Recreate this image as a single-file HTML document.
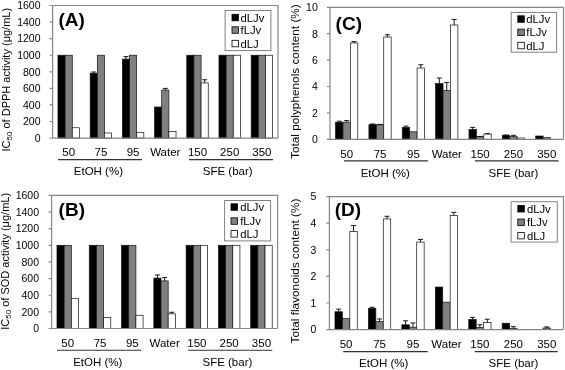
<!DOCTYPE html><html><head><meta charset="utf-8"><style>html,body{margin:0;padding:0;background:#fff;width:565px;height:370px;overflow:hidden}svg{display:block;will-change:transform}</style></head><body>
<svg width="565" height="370" viewBox="0 0 565 370" font-family='"Liberation Sans", sans-serif'>
<rect width="565" height="370" fill="#fff"/>
<rect x="57.97" y="55.23" width="7.16" height="82.87" fill="#000000" stroke="#111" stroke-width="0.7"/>
<rect x="65.12" y="55.23" width="7.16" height="82.87" fill="#808080" stroke="#111" stroke-width="0.7"/>
<rect x="72.28" y="127.74" width="7.16" height="10.36" fill="#ffffff" stroke="#111" stroke-width="0.7"/>
<rect x="90.17" y="73.21" width="7.16" height="64.89" fill="#000000" stroke="#111" stroke-width="0.7"/>
<path d="M93.74 73.21V71.97M91.24 71.97H96.24" stroke="#000" stroke-width="0.9" fill="none"/>
<rect x="97.32" y="55.23" width="7.16" height="82.87" fill="#808080" stroke="#111" stroke-width="0.7"/>
<rect x="104.48" y="132.96" width="7.16" height="5.14" fill="#ffffff" stroke="#111" stroke-width="0.7"/>
<rect x="122.37" y="59.12" width="7.16" height="78.98" fill="#000000" stroke="#111" stroke-width="0.7"/>
<path d="M125.94 59.12V56.63M123.44 56.63H128.44" stroke="#000" stroke-width="0.9" fill="none"/>
<rect x="129.52" y="55.23" width="7.16" height="82.87" fill="#808080" stroke="#111" stroke-width="0.7"/>
<rect x="136.68" y="132.30" width="7.16" height="5.80" fill="#ffffff" stroke="#111" stroke-width="0.7"/>
<rect x="154.57" y="107.02" width="7.16" height="31.08" fill="#000000" stroke="#111" stroke-width="0.7"/>
<rect x="161.72" y="90.03" width="7.16" height="48.07" fill="#808080" stroke="#111" stroke-width="0.7"/>
<path d="M165.30 90.03V88.38M162.80 88.38H167.80" stroke="#000" stroke-width="0.9" fill="none"/>
<rect x="168.88" y="131.55" width="7.16" height="6.55" fill="#ffffff" stroke="#111" stroke-width="0.7"/>
<rect x="186.77" y="55.23" width="7.16" height="82.87" fill="#000000" stroke="#111" stroke-width="0.7"/>
<rect x="193.92" y="55.23" width="7.16" height="82.87" fill="#808080" stroke="#111" stroke-width="0.7"/>
<rect x="201.08" y="82.91" width="7.16" height="55.19" fill="#ffffff" stroke="#111" stroke-width="0.7"/>
<path d="M204.66 82.91V79.76M202.16 79.76H207.16" stroke="#000" stroke-width="0.9" fill="none"/>
<rect x="218.97" y="55.23" width="7.16" height="82.87" fill="#000000" stroke="#111" stroke-width="0.7"/>
<rect x="226.12" y="55.23" width="7.16" height="82.87" fill="#808080" stroke="#111" stroke-width="0.7"/>
<rect x="233.28" y="55.23" width="7.16" height="82.87" fill="#ffffff" stroke="#111" stroke-width="0.7"/>
<rect x="251.17" y="55.23" width="7.16" height="82.87" fill="#000000" stroke="#111" stroke-width="0.7"/>
<rect x="258.32" y="55.23" width="7.16" height="82.87" fill="#808080" stroke="#111" stroke-width="0.7"/>
<rect x="265.48" y="55.23" width="7.16" height="82.87" fill="#ffffff" stroke="#111" stroke-width="0.7"/>
<path d="M52.6 5.5H278.0V138.1" stroke="#868686" stroke-width="1.2" fill="none"/>
<path d="M52.6 5.5V138.1H278.0" stroke="#868686" stroke-width="1.2" fill="none"/>
<text x="40.5" y="141.90" font-size="10.5" text-anchor="end" fill="#000">0</text>
<text x="40.5" y="125.32" font-size="10.5" text-anchor="end" fill="#000">200</text>
<text x="40.5" y="108.75" font-size="10.5" text-anchor="end" fill="#000">400</text>
<text x="40.5" y="92.17" font-size="10.5" text-anchor="end" fill="#000">600</text>
<text x="40.5" y="75.60" font-size="10.5" text-anchor="end" fill="#000">800</text>
<text x="40.5" y="59.03" font-size="10.5" text-anchor="end" fill="#000">1000</text>
<text x="40.5" y="42.45" font-size="10.5" text-anchor="end" fill="#000">1200</text>
<text x="40.5" y="25.88" font-size="10.5" text-anchor="end" fill="#000">1400</text>
<text x="40.5" y="9.30" font-size="10.5" text-anchor="end" fill="#000">1600</text>
<path d="M49.6 138.10H52.6M49.6 121.52H52.6M49.6 104.95H52.6M49.6 88.38H52.6M49.6 71.80H52.6M49.6 55.23H52.6M49.6 38.65H52.6M49.6 22.08H52.6M49.6 5.50H52.6" stroke="#868686" stroke-width="1.2" fill="none"/>
<text x="68.70" y="156.3" font-size="11.5" text-anchor="middle" fill="#000">50</text>
<text x="100.90" y="156.3" font-size="11.5" text-anchor="middle" fill="#000">75</text>
<text x="133.10" y="156.3" font-size="11.5" text-anchor="middle" fill="#000">95</text>
<text x="165.30" y="156.3" font-size="11.5" text-anchor="middle" fill="#000">Water</text>
<text x="197.50" y="156.3" font-size="11.5" text-anchor="middle" fill="#000">150</text>
<text x="229.70" y="156.3" font-size="11.5" text-anchor="middle" fill="#000">250</text>
<text x="261.90" y="156.3" font-size="11.5" text-anchor="middle" fill="#000">350</text>
<path d="M58 159.6H142M189 159.6H273" stroke="#333" stroke-width="1.1" fill="none"/>
<text x="98.4" y="174.9" font-size="11.5" text-anchor="middle" fill="#000">EtOH (%)</text>
<text x="227.7" y="174.9" font-size="11.5" text-anchor="middle" fill="#000">SFE (bar)</text>
<text x="58.5" y="25.8" font-size="19" font-weight="bold" fill="#000">(A)</text>
<rect x="225.1" y="10.5" width="45.80" height="40.10" fill="#fff" stroke="#808080" stroke-width="1"/>
<rect x="232" y="14.30" width="6.5" height="6.5" fill="#000000" stroke="#000" stroke-width="0.8"/>
<text x="240.5" y="21.50" font-size="11.3" fill="#000">dLJv</text>
<rect x="232" y="26.80" width="6.5" height="6.5" fill="#808080" stroke="#000" stroke-width="0.8"/>
<text x="240.5" y="34.00" font-size="11.3" fill="#000">fLJv</text>
<rect x="232" y="40.30" width="6.5" height="6.5" fill="#ffffff" stroke="#000" stroke-width="0.8"/>
<text x="240.5" y="47.50" font-size="11.3" fill="#000">dLJ</text>
<text transform="translate(9.7,151.5) rotate(-90)" font-size="11" fill="#000">IC<tspan font-size="8" dy="2.5">50</tspan><tspan dy="-2.5"> of DPPH activity (μg/mL)</tspan></text>
<rect x="56.98" y="245.31" width="7.17" height="83.19" fill="#000000" stroke="#111" stroke-width="0.7"/>
<rect x="64.16" y="245.31" width="7.17" height="83.19" fill="#808080" stroke="#111" stroke-width="0.7"/>
<rect x="71.33" y="298.47" width="7.17" height="30.03" fill="#ffffff" stroke="#111" stroke-width="0.7"/>
<rect x="89.27" y="245.31" width="7.17" height="83.19" fill="#000000" stroke="#111" stroke-width="0.7"/>
<rect x="96.44" y="245.31" width="7.17" height="83.19" fill="#808080" stroke="#111" stroke-width="0.7"/>
<rect x="103.62" y="317.35" width="7.17" height="11.15" fill="#ffffff" stroke="#111" stroke-width="0.7"/>
<rect x="121.55" y="245.31" width="7.17" height="83.19" fill="#000000" stroke="#111" stroke-width="0.7"/>
<rect x="128.73" y="245.31" width="7.17" height="83.19" fill="#808080" stroke="#111" stroke-width="0.7"/>
<rect x="135.90" y="315.27" width="7.17" height="13.23" fill="#ffffff" stroke="#111" stroke-width="0.7"/>
<rect x="153.84" y="278.09" width="7.17" height="50.41" fill="#000000" stroke="#111" stroke-width="0.7"/>
<path d="M157.43 278.09V274.93M154.93 274.93H159.93" stroke="#000" stroke-width="0.9" fill="none"/>
<rect x="161.01" y="280.92" width="7.17" height="47.58" fill="#808080" stroke="#111" stroke-width="0.7"/>
<path d="M164.60 280.92V277.59M162.10 277.59H167.10" stroke="#000" stroke-width="0.9" fill="none"/>
<rect x="168.19" y="313.86" width="7.17" height="14.64" fill="#ffffff" stroke="#111" stroke-width="0.7"/>
<path d="M171.77 313.86V312.28M169.27 312.28H174.27" stroke="#000" stroke-width="0.9" fill="none"/>
<rect x="186.12" y="245.31" width="7.17" height="83.19" fill="#000000" stroke="#111" stroke-width="0.7"/>
<rect x="193.30" y="245.31" width="7.17" height="83.19" fill="#808080" stroke="#111" stroke-width="0.7"/>
<rect x="200.47" y="245.31" width="7.17" height="83.19" fill="#ffffff" stroke="#111" stroke-width="0.7"/>
<rect x="218.41" y="245.31" width="7.17" height="83.19" fill="#000000" stroke="#111" stroke-width="0.7"/>
<rect x="225.58" y="245.31" width="7.17" height="83.19" fill="#808080" stroke="#111" stroke-width="0.7"/>
<rect x="232.76" y="245.31" width="7.17" height="83.19" fill="#ffffff" stroke="#111" stroke-width="0.7"/>
<rect x="250.70" y="245.31" width="7.17" height="83.19" fill="#000000" stroke="#111" stroke-width="0.7"/>
<rect x="257.87" y="245.31" width="7.17" height="83.19" fill="#808080" stroke="#111" stroke-width="0.7"/>
<rect x="265.04" y="245.31" width="7.17" height="83.19" fill="#ffffff" stroke="#111" stroke-width="0.7"/>
<path d="M51.6 195.4H277.6V328.5" stroke="#868686" stroke-width="1.2" fill="none"/>
<path d="M51.6 195.4V328.5H277.6" stroke="#868686" stroke-width="1.2" fill="none"/>
<text x="39.0" y="332.30" font-size="10.5" text-anchor="end" fill="#000">0</text>
<text x="39.0" y="315.66" font-size="10.5" text-anchor="end" fill="#000">200</text>
<text x="39.0" y="299.03" font-size="10.5" text-anchor="end" fill="#000">400</text>
<text x="39.0" y="282.39" font-size="10.5" text-anchor="end" fill="#000">600</text>
<text x="39.0" y="265.75" font-size="10.5" text-anchor="end" fill="#000">800</text>
<text x="39.0" y="249.11" font-size="10.5" text-anchor="end" fill="#000">1000</text>
<text x="39.0" y="232.48" font-size="10.5" text-anchor="end" fill="#000">1200</text>
<text x="39.0" y="215.84" font-size="10.5" text-anchor="end" fill="#000">1400</text>
<text x="39.0" y="199.20" font-size="10.5" text-anchor="end" fill="#000">1600</text>
<path d="M48.6 328.50H51.6M48.6 311.86H51.6M48.6 295.23H51.6M48.6 278.59H51.6M48.6 261.95H51.6M48.6 245.31H51.6M48.6 228.68H51.6M48.6 212.04H51.6M48.6 195.40H51.6" stroke="#868686" stroke-width="1.2" fill="none"/>
<text x="67.74" y="347.3" font-size="11.5" text-anchor="middle" fill="#000">50</text>
<text x="100.03" y="347.3" font-size="11.5" text-anchor="middle" fill="#000">75</text>
<text x="132.31" y="347.3" font-size="11.5" text-anchor="middle" fill="#000">95</text>
<text x="164.60" y="347.3" font-size="11.5" text-anchor="middle" fill="#000">Water</text>
<text x="196.89" y="347.3" font-size="11.5" text-anchor="middle" fill="#000">150</text>
<text x="229.17" y="347.3" font-size="11.5" text-anchor="middle" fill="#000">250</text>
<text x="261.46" y="347.3" font-size="11.5" text-anchor="middle" fill="#000">350</text>
<path d="M57 350.3H141.3M188 350.3H272.3" stroke="#333" stroke-width="1.1" fill="none"/>
<text x="97.8" y="365.5" font-size="11.5" text-anchor="middle" fill="#000">EtOH (%)</text>
<text x="227.4" y="365.5" font-size="11.5" text-anchor="middle" fill="#000">SFE (bar)</text>
<text x="58.6" y="216.0" font-size="19" font-weight="bold" fill="#000">(B)</text>
<rect x="224.6" y="200.5" width="46.00" height="40.40" fill="#fff" stroke="#808080" stroke-width="1"/>
<rect x="231" y="203.80" width="6.5" height="6.5" fill="#000000" stroke="#000" stroke-width="0.8"/>
<text x="240.2" y="211.00" font-size="11.3" fill="#000">dLJv</text>
<rect x="231" y="217.80" width="6.5" height="6.5" fill="#808080" stroke="#000" stroke-width="0.8"/>
<text x="240.2" y="225.00" font-size="11.3" fill="#000">fLJv</text>
<rect x="231" y="230.60" width="6.5" height="6.5" fill="#ffffff" stroke="#000" stroke-width="0.8"/>
<text x="240.2" y="237.80" font-size="11.3" fill="#000">dLJ</text>
<text transform="translate(8.9,329.8) rotate(-90)" font-size="11" fill="#000">IC<tspan font-size="8" dy="2.5">50</tspan><tspan dy="-2.5"> of SOD activity (μg/mL)</tspan></text>
<rect x="335.56" y="122.27" width="7.41" height="17.03" fill="#000000" stroke="#111" stroke-width="0.7"/>
<path d="M339.27 122.27V121.22M336.77 121.22H341.77" stroke="#000" stroke-width="0.9" fill="none"/>
<rect x="342.97" y="122.14" width="7.41" height="17.16" fill="#808080" stroke="#111" stroke-width="0.7"/>
<path d="M346.68 122.14V120.56M344.18 120.56H349.18" stroke="#000" stroke-width="0.9" fill="none"/>
<rect x="350.38" y="42.94" width="7.41" height="96.36" fill="#ffffff" stroke="#111" stroke-width="0.7"/>
<path d="M354.09 42.94V41.62M351.59 41.62H356.59" stroke="#000" stroke-width="0.9" fill="none"/>
<rect x="368.92" y="124.65" width="7.41" height="14.65" fill="#000000" stroke="#111" stroke-width="0.7"/>
<path d="M372.62 124.65V123.99M370.12 123.99H375.12" stroke="#000" stroke-width="0.9" fill="none"/>
<rect x="376.33" y="124.78" width="7.41" height="14.52" fill="#808080" stroke="#111" stroke-width="0.7"/>
<path d="M380.04 124.78V124.38M377.54 124.38H382.54" stroke="#000" stroke-width="0.9" fill="none"/>
<rect x="383.74" y="37.00" width="7.41" height="102.30" fill="#ffffff" stroke="#111" stroke-width="0.7"/>
<path d="M387.45 37.00V34.76M384.95 34.76H389.95" stroke="#000" stroke-width="0.9" fill="none"/>
<rect x="402.27" y="127.42" width="7.41" height="11.88" fill="#000000" stroke="#111" stroke-width="0.7"/>
<path d="M405.98 127.42V126.10M403.48 126.10H408.48" stroke="#000" stroke-width="0.9" fill="none"/>
<rect x="409.69" y="131.78" width="7.41" height="7.52" fill="#808080" stroke="#111" stroke-width="0.7"/>
<rect x="417.10" y="68.02" width="7.41" height="71.28" fill="#ffffff" stroke="#111" stroke-width="0.7"/>
<path d="M420.81 68.02V64.72M418.31 64.72H423.31" stroke="#000" stroke-width="0.9" fill="none"/>
<rect x="435.63" y="83.60" width="7.41" height="55.70" fill="#000000" stroke="#111" stroke-width="0.7"/>
<path d="M439.34 83.60V78.05M436.84 78.05H441.84" stroke="#000" stroke-width="0.9" fill="none"/>
<rect x="443.04" y="90.46" width="7.41" height="48.84" fill="#808080" stroke="#111" stroke-width="0.7"/>
<path d="M446.75 90.46V82.54M444.25 82.54H449.25" stroke="#000" stroke-width="0.9" fill="none"/>
<rect x="450.46" y="24.99" width="7.41" height="114.31" fill="#ffffff" stroke="#111" stroke-width="0.7"/>
<path d="M454.16 24.99V19.44M451.66 19.44H456.66" stroke="#000" stroke-width="0.9" fill="none"/>
<rect x="468.99" y="129.40" width="7.41" height="9.90" fill="#000000" stroke="#111" stroke-width="0.7"/>
<path d="M472.69 129.40V127.42M470.19 127.42H475.19" stroke="#000" stroke-width="0.9" fill="none"/>
<rect x="476.40" y="136.66" width="7.41" height="2.64" fill="#808080" stroke="#111" stroke-width="0.7"/>
<path d="M480.11 136.66V136.40M477.61 136.40H482.61" stroke="#000" stroke-width="0.9" fill="none"/>
<rect x="483.81" y="134.02" width="7.41" height="5.28" fill="#ffffff" stroke="#111" stroke-width="0.7"/>
<path d="M487.52 134.02V133.62M485.02 133.62H490.02" stroke="#000" stroke-width="0.9" fill="none"/>
<rect x="502.35" y="135.34" width="7.41" height="3.96" fill="#000000" stroke="#111" stroke-width="0.7"/>
<path d="M506.05 135.34V134.94M503.55 134.94H508.55" stroke="#000" stroke-width="0.9" fill="none"/>
<rect x="509.76" y="136.66" width="7.41" height="2.64" fill="#808080" stroke="#111" stroke-width="0.7"/>
<path d="M513.46 136.66V135.34M510.96 135.34H515.96" stroke="#000" stroke-width="0.9" fill="none"/>
<rect x="517.17" y="137.98" width="7.41" height="1.32" fill="#ffffff" stroke="#111" stroke-width="0.7"/>
<rect x="535.70" y="136.00" width="7.41" height="3.30" fill="#000000" stroke="#111" stroke-width="0.7"/>
<rect x="543.12" y="137.72" width="7.41" height="1.58" fill="#808080" stroke="#111" stroke-width="0.7"/>
<path d="M330.0 7.3H563.5V139.3" stroke="#868686" stroke-width="1.2" fill="none"/>
<path d="M330.0 7.3V139.3H563.5" stroke="#868686" stroke-width="1.2" fill="none"/>
<text x="317.8" y="143.10" font-size="10.5" text-anchor="end" fill="#000">0</text>
<text x="317.8" y="116.70" font-size="10.5" text-anchor="end" fill="#000">2</text>
<text x="317.8" y="90.30" font-size="10.5" text-anchor="end" fill="#000">4</text>
<text x="317.8" y="63.90" font-size="10.5" text-anchor="end" fill="#000">6</text>
<text x="317.8" y="37.50" font-size="10.5" text-anchor="end" fill="#000">8</text>
<text x="317.8" y="11.10" font-size="10.5" text-anchor="end" fill="#000">10</text>
<path d="M327.0 139.30H330.0M327.0 112.90H330.0M327.0 86.50H330.0M327.0 60.10H330.0M327.0 33.70H330.0M327.0 7.30H330.0" stroke="#868686" stroke-width="1.2" fill="none"/>
<text x="346.68" y="158" font-size="11.5" text-anchor="middle" fill="#000">50</text>
<text x="380.04" y="158" font-size="11.5" text-anchor="middle" fill="#000">75</text>
<text x="413.39" y="158" font-size="11.5" text-anchor="middle" fill="#000">95</text>
<text x="446.75" y="158" font-size="11.5" text-anchor="middle" fill="#000">Water</text>
<text x="480.11" y="158" font-size="11.5" text-anchor="middle" fill="#000">150</text>
<text x="513.46" y="158" font-size="11.5" text-anchor="middle" fill="#000">250</text>
<text x="546.82" y="158" font-size="11.5" text-anchor="middle" fill="#000">350</text>
<path d="M344 160.9H427.9M475 160.9H558.6" stroke="#333" stroke-width="1.1" fill="none"/>
<text x="385.3" y="176.7" font-size="11.5" text-anchor="middle" fill="#000">EtOH (%)</text>
<text x="513.5" y="176.7" font-size="11.5" text-anchor="middle" fill="#000">SFE (bar)</text>
<text x="335.6" y="30.3" font-size="19" font-weight="bold" fill="#000">(C)</text>
<rect x="511.2" y="12.4" width="45.40" height="39.80" fill="#fff" stroke="#808080" stroke-width="1"/>
<rect x="517.8" y="15.80" width="6.5" height="6.5" fill="#000000" stroke="#000" stroke-width="0.8"/>
<text x="526.3" y="23.00" font-size="11.3" fill="#000">dLJv</text>
<rect x="517.8" y="29.10" width="6.5" height="6.5" fill="#808080" stroke="#000" stroke-width="0.8"/>
<text x="526.3" y="36.30" font-size="11.3" fill="#000">fLJv</text>
<rect x="517.8" y="42.30" width="6.5" height="6.5" fill="#ffffff" stroke="#000" stroke-width="0.8"/>
<text x="526.3" y="49.50" font-size="11.3" fill="#000">dLJ</text>
<text transform="translate(298.6,159) rotate(-90)" font-size="11.8" fill="#000">Total polyphenols content (%)</text>
<rect x="334.97" y="311.78" width="7.43" height="17.82" fill="#000000" stroke="#111" stroke-width="0.7"/>
<path d="M338.69 311.78V309.12M336.19 309.12H341.19" stroke="#000" stroke-width="0.9" fill="none"/>
<rect x="342.41" y="318.43" width="7.43" height="11.17" fill="#808080" stroke="#111" stroke-width="0.7"/>
<rect x="349.84" y="231.45" width="7.43" height="98.15" fill="#ffffff" stroke="#111" stroke-width="0.7"/>
<path d="M353.55 231.45V225.59M351.05 225.59H356.05" stroke="#000" stroke-width="0.9" fill="none"/>
<rect x="368.42" y="308.32" width="7.43" height="21.28" fill="#000000" stroke="#111" stroke-width="0.7"/>
<path d="M372.13 308.32V307.26M369.63 307.26H374.63" stroke="#000" stroke-width="0.9" fill="none"/>
<rect x="375.85" y="321.62" width="7.43" height="7.98" fill="#808080" stroke="#111" stroke-width="0.7"/>
<path d="M379.56 321.62V318.96M377.06 318.96H382.06" stroke="#000" stroke-width="0.9" fill="none"/>
<rect x="383.28" y="218.94" width="7.43" height="110.66" fill="#ffffff" stroke="#111" stroke-width="0.7"/>
<path d="M387.00 218.94V216.28M384.50 216.28H389.50" stroke="#000" stroke-width="0.9" fill="none"/>
<rect x="401.86" y="324.81" width="7.43" height="4.79" fill="#000000" stroke="#111" stroke-width="0.7"/>
<path d="M405.58 324.81V320.82M403.08 320.82H408.08" stroke="#000" stroke-width="0.9" fill="none"/>
<rect x="409.29" y="327.21" width="7.43" height="2.39" fill="#808080" stroke="#111" stroke-width="0.7"/>
<path d="M413.01 327.21V322.95M410.51 322.95H415.51" stroke="#000" stroke-width="0.9" fill="none"/>
<rect x="416.72" y="242.09" width="7.43" height="87.51" fill="#ffffff" stroke="#111" stroke-width="0.7"/>
<path d="M420.44 242.09V239.43M417.94 239.43H422.94" stroke="#000" stroke-width="0.9" fill="none"/>
<rect x="435.30" y="287.04" width="7.43" height="42.56" fill="#000000" stroke="#111" stroke-width="0.7"/>
<rect x="442.73" y="302.20" width="7.43" height="27.40" fill="#808080" stroke="#111" stroke-width="0.7"/>
<rect x="450.17" y="215.49" width="7.43" height="114.11" fill="#ffffff" stroke="#111" stroke-width="0.7"/>
<path d="M453.88 215.49V212.29M451.38 212.29H456.38" stroke="#000" stroke-width="0.9" fill="none"/>
<rect x="468.75" y="319.49" width="7.43" height="10.11" fill="#000000" stroke="#111" stroke-width="0.7"/>
<path d="M472.46 319.49V317.36M469.96 317.36H474.96" stroke="#000" stroke-width="0.9" fill="none"/>
<rect x="476.18" y="327.47" width="7.43" height="2.13" fill="#808080" stroke="#111" stroke-width="0.7"/>
<path d="M479.89 327.47V324.81M477.39 324.81H482.39" stroke="#000" stroke-width="0.9" fill="none"/>
<rect x="483.61" y="322.42" width="7.43" height="7.18" fill="#ffffff" stroke="#111" stroke-width="0.7"/>
<path d="M487.32 322.42V319.23M484.82 319.23H489.82" stroke="#000" stroke-width="0.9" fill="none"/>
<rect x="502.19" y="323.22" width="7.43" height="6.38" fill="#000000" stroke="#111" stroke-width="0.7"/>
<rect x="509.62" y="328.27" width="7.43" height="1.33" fill="#808080" stroke="#111" stroke-width="0.7"/>
<path d="M513.34 328.27V326.67M510.84 326.67H515.84" stroke="#000" stroke-width="0.9" fill="none"/>
<rect x="535.63" y="329.33" width="7.43" height="0.27" fill="#000000" stroke="#111" stroke-width="0.7"/>
<rect x="543.06" y="328.00" width="7.43" height="1.60" fill="#808080" stroke="#111" stroke-width="0.7"/>
<path d="M546.78 328.00V326.94M544.28 326.94H549.28" stroke="#000" stroke-width="0.9" fill="none"/>
<path d="M329.4 196.6H563.5V329.6" stroke="#868686" stroke-width="1.2" fill="none"/>
<path d="M329.4 196.6V329.6H563.5" stroke="#868686" stroke-width="1.2" fill="none"/>
<text x="316.3" y="333.40" font-size="10.5" text-anchor="end" fill="#000">0</text>
<text x="316.3" y="306.80" font-size="10.5" text-anchor="end" fill="#000">1</text>
<text x="316.3" y="280.20" font-size="10.5" text-anchor="end" fill="#000">2</text>
<text x="316.3" y="253.60" font-size="10.5" text-anchor="end" fill="#000">3</text>
<text x="316.3" y="227.00" font-size="10.5" text-anchor="end" fill="#000">4</text>
<text x="316.3" y="200.40" font-size="10.5" text-anchor="end" fill="#000">5</text>
<path d="M326.4 329.60H329.4M326.4 303.00H329.4M326.4 276.40H329.4M326.4 249.80H329.4M326.4 223.20H329.4M326.4 196.60H329.4" stroke="#868686" stroke-width="1.2" fill="none"/>
<text x="346.12" y="348.2" font-size="11.5" text-anchor="middle" fill="#000">50</text>
<text x="379.56" y="348.2" font-size="11.5" text-anchor="middle" fill="#000">75</text>
<text x="413.01" y="348.2" font-size="11.5" text-anchor="middle" fill="#000">95</text>
<text x="446.45" y="348.2" font-size="11.5" text-anchor="middle" fill="#000">Water</text>
<text x="479.89" y="348.2" font-size="11.5" text-anchor="middle" fill="#000">150</text>
<text x="513.34" y="348.2" font-size="11.5" text-anchor="middle" fill="#000">250</text>
<text x="546.78" y="348.2" font-size="11.5" text-anchor="middle" fill="#000">350</text>
<path d="M343.2 351.6H427.7M474.7 351.6H557.6" stroke="#333" stroke-width="1.1" fill="none"/>
<text x="383.7" y="367" font-size="11.5" text-anchor="middle" fill="#000">EtOH (%)</text>
<text x="513.5" y="367" font-size="11.5" text-anchor="middle" fill="#000">SFE (bar)</text>
<text x="334.8" y="216.0" font-size="19" font-weight="bold" fill="#000">(D)</text>
<rect x="511.1" y="201.7" width="46.20" height="40.40" fill="#fff" stroke="#808080" stroke-width="1"/>
<rect x="517.8" y="205.50" width="6.5" height="6.5" fill="#000000" stroke="#000" stroke-width="0.8"/>
<text x="526.9" y="212.70" font-size="11.3" fill="#000">dLJv</text>
<rect x="517.8" y="219.00" width="6.5" height="6.5" fill="#808080" stroke="#000" stroke-width="0.8"/>
<text x="526.9" y="226.20" font-size="11.3" fill="#000">fLJv</text>
<rect x="517.8" y="232.40" width="6.5" height="6.5" fill="#ffffff" stroke="#000" stroke-width="0.8"/>
<text x="526.9" y="239.60" font-size="11.3" fill="#000">dLJ</text>
<text transform="translate(298.6,343.5) rotate(-90)" font-size="11.8" fill="#000">Total flavonoids content (%)</text>
</svg></body></html>
